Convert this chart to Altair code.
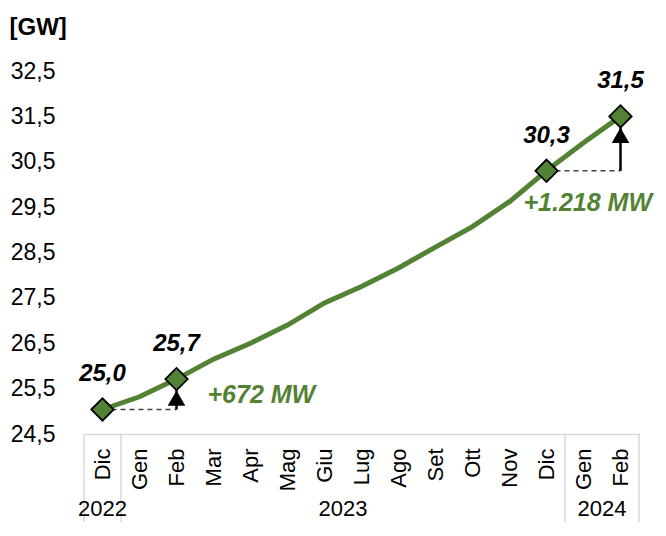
import json
import altair as alt
import pandas as pd

# ---------------- data ----------------
months = ["Dic", "Gen", "Feb", "Mar", "Apr", "Mag", "Giu", "Lug", "Ago",
          "Set", "Ott", "Nov", "Dic", "Gen", "Feb"]
power_gw = [25.04, 25.32, 25.71, 26.15, 26.50, 26.90, 27.39, 27.75, 28.16,
            28.62, 29.07, 29.62, 30.30, 30.92, 31.50]
marked_idx = [0, 2, 12, 14]
marked_labels = ["25,0", "25,7", "30,3", "31,5"]
years = ["2022", "2023", "2024"]
year_start = [-0.5, 0.5, 12.5]
year_end = [0.5, 12.5, 14.5]
delta_texts = ["+672 MW", "+1.218 MW"]
delta_from = [0, 12]
delta_to = [2, 14]
y_ticks = [24.5, 25.5, 26.5, 27.5, 28.5, 29.5, 30.5, 31.5, 32.5]

# ---------------- frames ----------------
df = pd.DataFrame({"idx": list(range(len(months))), "month": months, "value": power_gw})
pts = pd.DataFrame({
    "idx": marked_idx,
    "value": [power_gw[i] for i in marked_idx],
    "label": marked_labels,
})
arr = pd.DataFrame({
    "x0": delta_from,
    "x1": delta_to,
    "base": [power_gw[i] for i in delta_from],
    "top": [power_gw[i] for i in delta_to],
    "text": delta_texts,
})
yr = pd.DataFrame({
    "year": years,
    "start": year_start,
    "end": year_end,
    "mid": [(a + b) / 2 for a, b in zip(year_start, year_end)],
})
seps = pd.DataFrame({"x": sorted(set(year_start + year_end))})

GREEN = "#548235"
GRID = "#d9d9d9"
W, H = 555, 363

xscale = alt.Scale(domain=[-0.5, 14.5], nice=False, zero=False)
yscale = alt.Scale(domain=[24.5, 32.5], nice=False, zero=False)

x_axis = alt.Axis(
    values=list(range(len(months))),
    labelExpr=json.dumps(months) + "[datum.value]",
    labelAngle=-90,
    labelFontSize=22,
    labelColor="black",
    labelPadding=14,
    ticks=False,
    grid=False,
    domainColor=GRID,
    domainWidth=1.5,
    title=None,
)
y_axis = alt.Axis(
    values=y_ticks,
    labelExpr="replace(format(datum.value, '.1f'), '.', ',')",
    labelFontSize=23,
    labelColor="black",
    labelPadding=29,
    ticks=False,
    grid=False,
    domain=False,
    title="[GW]",
    titleAngle=0,
    titleAlign="left",
    titleBaseline="middle",
    titleX=-75,
    titleY=-44,
    titleFontSize=24,
    titleFontWeight="bold",
    titleColor="black",
)


def X(field):
    return alt.X(field, scale=xscale, axis=x_axis, title=None)


def Y(field):
    return alt.Y(field, scale=yscale, axis=y_axis, title="[GW]")


separators = alt.Chart(seps).mark_rule(color=GRID, strokeWidth=1.5).encode(
    x=X("x:Q"),
    y=alt.value(H),
    y2=alt.value(H + 90),
)

line = alt.Chart(df).mark_line(color=GREEN, strokeWidth=5, interpolate="linear").encode(
    x=X("idx:Q"),
    y=Y("value:Q"),
)

dashed = alt.Chart(arr).mark_rule(color="#404040", strokeWidth=1.5, strokeDash=[5, 4]).encode(
    x=X("x0:Q"),
    x2="x1:Q",
    y=Y("base:Q"),
)

shaft = alt.Chart(arr).mark_rule(color="black", strokeWidth=2.5).encode(
    x=X("x1:Q"),
    y=Y("base:Q"),
    y2="top:Q",
)

heads = alt.Chart(arr).mark_point(
    shape="triangle-up", filled=True, color="black", size=310, opacity=1, yOffset=19
).encode(
    x=X("x1:Q"),
    y=Y("top:Q"),
)

diamonds = alt.Chart(pts).mark_point(
    shape="diamond", filled=True, fill=GREEN, stroke="black", strokeWidth=1.8,
    size=500, opacity=1,
).encode(
    x=X("idx:Q"),
    y=Y("value:Q"),
)

labels = alt.Chart(pts).mark_text(
    fontSize=24, fontWeight="bold", fontStyle="italic", color="black", dy=-35,
    baseline="middle",
).encode(
    x=X("idx:Q"),
    y=Y("value:Q"),
    text="label:N",
)

delta1 = alt.Chart(arr.iloc[[0]]).mark_text(
    fontSize=25, fontWeight="bold", fontStyle="italic", color=GREEN,
    align="left", baseline="middle", dx=31, dy=-14,
).encode(
    x=X("x1:Q"),
    y=Y("base:Q"),
    text="text:N",
)

delta2 = alt.Chart(arr.iloc[[1]]).mark_text(
    fontSize=25, fontWeight="bold", fontStyle="italic", color=GREEN,
    align="left", baseline="middle", dx=-23, dy=32,
).encode(
    x=X("x0:Q"),
    y=Y("base:Q"),
    text="text:N",
)

year_labels = alt.Chart(yr).mark_text(
    fontSize=22, color="black", baseline="alphabetic", align="center",
).encode(
    x=X("mid:Q"),
    y=alt.value(H + 82),
    text="year:N",
)

chart = alt.layer(
    separators, line, dashed, shaft, heads, diamonds, labels, delta1, delta2, year_labels
).properties(
    width=W,
    height=H,
    padding={"left": 76, "top": 63, "right": 19, "bottom": 88},
    autosize=alt.AutoSizeParams(type="none"),
    background="white",
).configure(
    font="Liberation Sans",
).configure_view(
    stroke=None,
)

chart.save("out.html", embed_options={"renderer": "svg", "actions": False})
